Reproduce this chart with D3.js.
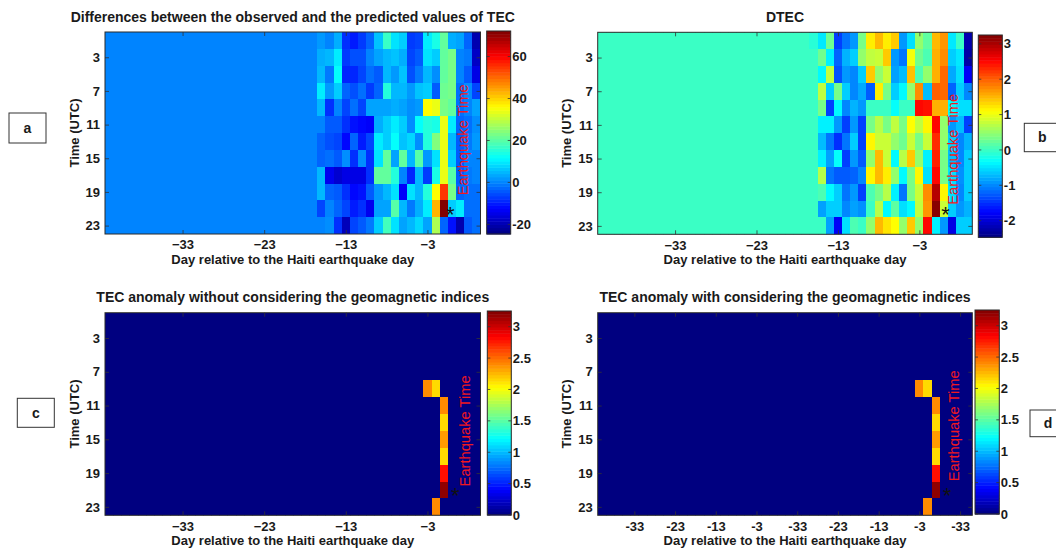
<!DOCTYPE html>
<html>
<head>
<meta charset="utf-8">
<script src="https://cdn.jsdelivr.net/npm/d3@7"></script>
<style>
  html, body { margin: 0; padding: 0; background: #fff; }
  svg { display: block; font-family: Arial, "Liberation Sans", sans-serif; }
</style>
</head>
<body>
<svg id="fig" width="1056" height="549"></svg>
<script>
// ---- data -------------------------------------------------------------
// Days relative to the Haiti earthquake day (12 Jan 2010) and 2-hour UTC bins
const days = [-42,-41,-40,-39,-38,-37,-36,-35,-34,-33,-32,-31,-30,-29,-28,-27,-26,-25,-24,-23,
              -22,-21,-20,-19,-18,-17,-16,-15,-14,-13,-12,-11,-10,-9,-8,-7,-6,-5,-4,-3,-2,-1,0,1,2,3];
const hours = [1,3,5,7,9,11,13,15,17,19,21,23];

// Days with computed values; earlier days hold the quiet value
const activeDays = [-16,-15,-14,-13,-12,-11,-10,-9,-8,-7,-6,-5,-4,-3,-2,-1,0,1,2,3];
const quietTecDiff = 0;
const quietDtec = 0;
const quietAnomaly = 0;

// Observed minus predicted TEC (TECU), rows = hour bins, columns = activeDays
const tecDiff = [
  [  2,  0,  4, -8,-10, -7, -3,  6, 17,  9,  7, -7, -6, 10, 14, 21,  4,  3, -3,-20],
  [  4,  5, 10, -7, -5, -5,  0,  3,  5,  6,  4, -6, -4,  9,  7, 21, 23,  0, -1,-18],
  [  5, -1, 12, -9, -9, -6, -2, -4,  5,  2,  6, -5, -1,  5,  1, 21, 23,  0, -4,-15],
  [ 10,  2,  7, -3, -5, -2, -7, -3, 15,  5,  5,  2,  6,  7, -4, 22, 23, -2,  1, -6],
  [  5, -8,  0, -6, -2, -6,  3,  3,  3,  4,  3,  1,  2, 36, 34, 23, 21, -2,  0,  3],
  [  0, -4, -4, -8,-11,-12,-13,  4,  7, 10,  7,  1, 12, 15, 14, 34, 10, -3, -2,  1],
  [ -3, -5, -6,-12, -3,-10, -6, 10,  7, 12,  6,  8,  1, 15, 24, 34,  5, -4, -1,  2],
  [ -3, -2, -4,  1, -8,  1, -8,  9, 21,  3, 21,  5, 20,  2,  9, 34,  7, -4,  0,  0],
  [  5,-14,-17,-15,-15,-15, -8, 21, 21, 15,  0, -9,  5, -7, 14, 34, 20, -4, -1,  0],
  [  5, -3, -4, -8,-12,-11, -4,  2,  5,  9,-13,  9,  5, 15, 36, 55, 23, -3, -2, -2],
  [ -6,  0, -3, -6,-10, -8,-14,  3,  3, 20,  5, -1,  4, 10, 43, 72,  7, 10, -2, -2],
  [  0,  1, -8,-19, -6, -4, -1,  7, 18,  9,  3,  5,  8,  3, 28, -3,-11,-20, -4, -2]
];

// DTEC, rows = hour bins, columns = activeDays
const dtec = [
  [-0.1,-0.45, 0.3,-1.4,-1.1,-0.9, 0.35, 1.2, 1.5, 1.2, 1.4,-0.9,-0.5, 0.5, 0.2, 1.5, 1.7,-0.45, 0.0,-2.2],
  [ 0.0, 0.3,-0.4,-1.2,-0.75,-0.6, 0.5, 0.75, 0.8, 1.4,-0.9,-1.1, 1.05, 0.3, 0.1, 1.55, 1.75,-0.6,-0.45,-2.25],
  [ 0.0,-0.35, 0.75,-1.3,-0.9,-1.0,-0.6, 1.4, 0.5, 0.8,-0.85,-0.7, 1.45, 0.1, 0.5, 1.55, 1.95,-0.8,-0.5,-1.8],
  [ 0.0, 0.75,-0.6, 0.35,-0.6,-1.0,-0.8,-1.25, 1.2, 0.35,-0.6,-0.35, 0.5, 1.75,-0.7, 2.0, 1.95,-1.2,-0.6,-1.0],
  [ 0.0, 0.35,-1.4,-0.35,-1.0,-0.75,-0.9, 0.0, 0.0, 0.0,-0.3, 0.0, 0.0, 2.5, 2.45, 1.55, 1.55,-0.35,-0.5,-0.5],
  [ 0.0,-0.4,-0.4,-0.9,-1.4,-0.9,-1.4, 0.35, 0.7, 0.35, 0.75, 0.35, 1.1, 0.75, 1.15, 2.5, 0.5,-0.9,-0.7,-1.4],
  [ 0.0,-0.7,-1.1,-1.5,-1.1,-0.6,-1.4, 1.15, 0.8, 0.8, 0.5, 0.3, 0.8, 0.35, 0.8, 2.3, 0.5,-0.6,-1.0,-0.75],
  [ 0.0,-0.4,-0.85,-0.3,-1.4,-0.9,-1.25, 0.5, 1.5, 0.8,-0.35, 0.7, 1.4, 0.5,-0.4, 2.35, 0.35,-0.7,-1.0,-0.6],
  [ 0.0, 0.7,-1.1,-1.25,-1.25,-1.2,-1.0, 1.15, 1.5, 1.2, 0.5,-0.35, 0.35, 1.15,-0.5, 2.5, 0.35,-0.5,-0.95,-0.6],
  [ 0.0, 0.1,-0.35,-0.6,-1.1,-0.9,-1.4, 0.1, 0.35, 0.7,-0.4,-1.1, 0.35, 0.8, 1.75, 2.95, 1.15,-0.5,-1.0,-0.6],
  [ 0.0,-0.85,-0.6,-0.6,-1.0,-0.85,-0.95, 0.0, 0.7,-0.35, 0.2,-0.5,-0.35, 0.75, 1.7, 3.2, 0.8,-0.6,-0.9,-0.75],
  [ 0.0, 0.0,-0.85,-1.8,-0.5, 0.1, 0.0, 0.5, 1.5, 1.25, 1.1, 0.5, 1.4, 0.5, 2.5,-0.4,-0.9,-1.9,-0.6,-0.6]
];

// Flagged anomaly cells (all other cells hold the quiet value)
const anomalyNoGeo = [
  { day: -3, hour:  9, v: 2.40 },
  { day: -2, hour:  9, v: 2.15 },
  { day: -1, hour: 11, v: 2.40 },
  { day: -1, hour: 13, v: 2.15 },
  { day: -1, hour: 15, v: 2.35 },
  { day: -1, hour: 17, v: 2.15 },
  { day: -1, hour: 19, v: 2.80 },
  { day: -1, hour: 21, v: 3.20 },
  { day: -2, hour: 23, v: 2.40 }
];
const anomalyGeo = [
  { day: -3, hour:  9, v: 2.40 },
  { day: -2, hour:  9, v: 2.15 },
  { day: -1, hour: 11, v: 2.40 },
  { day: -1, hour: 13, v: 2.15 },
  { day: -1, hour: 15, v: 2.35 },
  { day: -1, hour: 17, v: 2.15 },
  { day: -1, hour: 19, v: 2.80 },
  { day: -1, hour: 21, v: 3.20 },
  { day: -2, hour: 23, v: 2.40 }
];

// Axis ticks
const yTickValues = [3, 7, 11, 15, 19, 23];
const xTickValues = [-33, -23, -13, -3];
const xTickValuesD = [-38, -33, -28, -23, -18, -13, -8, -3, 2];
const xTickLabelsD = ["-33", "-23", "-13", "-3", "-33", "-23", "-13", "-3", "-33"];

// Colour limits and colour bar ticks
const climA = [-24.6, 72.2];
const climB = [-2.47, 3.25];
const climCD = [0, 3.25];
const cbTicksA = [-20, 0, 20, 40, 60];
const cbTicksB = [-2, -1, 0, 1, 2, 3];
const cbTicksCD = [0, 0.5, 1, 1.5, 2, 2.5, 3];

const titles = [
  "Differences between the observed and the predicted values of TEC",
  "DTEC",
  "TEC anomaly without considering the geomagnetic indices",
  "TEC anomaly with considering the geomagnetic indices"
];
const xLabel = "Day relative to the Haiti earthquake day";
const yLabel = "Time (UTC)";
const quakeLabel = "Earthquake Time";
const panelLetters = ["a", "b", "c", "d"];

// Earthquake marker and label positions (day, hour)
const quakeStar = [
  { day: -0.2, hour: 21.1 }, { day: 0.2, hour: 21.1 },
  { day: 0.4, hour: 21.1 }, { day: 0.4, hour: 21.1 }
];
const quakeText = [
  { day: 1.35, hour: 12.8 }, { day: 1.15, hour: 13.9 },
  { day: 1.55, hour: 14.0 }, { day: 1.2, hour: 13.4 }
];

// ---- helpers ----------------------------------------------------------
function gridFromMatrix(matrix, quiet) {
  const cells = [];
  hours.forEach((h, r) => {
    days.forEach(d => {
      const k = activeDays.indexOf(d);
      cells.push({ day: d, hour: h, v: k < 0 ? quiet : matrix[r][k] });
    });
  });
  return cells;
}
function gridFromCells(list, quiet) {
  const cells = [];
  hours.forEach(h => days.forEach(d => {
    const hit = list.find(c => c.day === d && c.hour === h);
    cells.push({ day: d, hour: h, v: hit ? hit.v : quiet });
  }));
  return cells;
}
function jet(t) {
  const c = v => Math.max(0, Math.min(1, v));
  const r = c(1.5 - Math.abs(4 * t - 3));
  const g = c(1.5 - Math.abs(4 * t - 2));
  const b = c(1.5 - Math.abs(4 * t - 1));
  return d3.rgb(r * 255, g * 255, b * 255).formatHex();
}

const svg = d3.select("#fig");
const INK = "#1a1a1a";
const FONT = 'Arial, "Liberation Sans", sans-serif';

const panels = [
  { cells: gridFromMatrix(tecDiff, quietTecDiff), clim: climA, cbTicks: cbTicksA,
    plot: { x0: 105, x1: 480.5, y0: 32, y1: 234 },
    cb: { x: 486.7, w: 24, y0: 31, y1: 234 },
    box: { x: 9, y: 113, w: 37, h: 30 },
    xt: xTickValues, xl: null },
  { cells: gridFromMatrix(dtec, quietDtec), clim: climB, cbTicks: cbTicksB,
    plot: { x0: 597.7, x1: 972.3, y0: 32.3, y1: 234.3 },
    cb: { x: 978.3, w: 24, y0: 35, y1: 237.3 },
    box: { x: 1024.3, y: 123.3, w: 40, h: 28.4 },
    xt: xTickValues, xl: null },
  { cells: gridFromCells(anomalyNoGeo, quietAnomaly), clim: climCD, cbTicks: cbTicksCD,
    plot: { x0: 105, x1: 480.5, y0: 312.7, y1: 515.3 },
    cb: { x: 487.3, w: 24, y0: 311, y1: 515 },
    box: { x: 17.3, y: 398.3, w: 37, h: 29 },
    xt: xTickValues, xl: null },
  { cells: gridFromCells(anomalyGeo, quietAnomaly), clim: climCD, cbTicks: cbTicksCD,
    plot: { x0: 597.7, x1: 972.3, y0: 312.7, y1: 515.3 },
    cb: { x: 975, w: 24.3, y0: 310, y1: 514 },
    box: { x: 1030, y: 410, w: 40, h: 26.7 },
    xt: xTickValuesD, xl: xTickLabelsD }
];

function styleAxis(g) {
  g.select(".domain").remove();
  g.attr("font-size", 13).attr("font-family", FONT).attr("font-weight", "bold")
   .attr("color", INK);
  g.selectAll(".tick line").attr("stroke", "#333").attr("stroke-width", 0.8);
}

panels.forEach((p, i) => {
  const { x0, x1, y0, y1 } = p.plot;
  const g = svg.append("g");
  const x = d3.scaleLinear().domain([days[0] - 0.5, days[days.length - 1] + 0.5]).range([x0, x1]);
  const y = d3.scaleLinear().domain([0, 24]).range([y0, y1]);
  const norm = d3.scaleLinear().domain(p.clim).range([0, 1]).clamp(true);

  const clipId = "clip" + i;
  svg.append("clipPath").attr("id", clipId)
    .append("rect").attr("x", x0).attr("y", y0).attr("width", x1 - x0).attr("height", y1 - y0);

  // heat-map cells, snapped to whole pixels so neighbours meet without seams
  const px = v => Math.round(v);
  g.append("g").attr("clip-path", `url(#${clipId})`).attr("shape-rendering", "crispEdges")
    .selectAll("rect").data(p.cells).join("rect")
    .attr("x", d => px(x(d.day - 0.5)))
    .attr("y", d => px(y(d.hour - 1)))
    .attr("width", d => px(x(d.day + 0.5)) - px(x(d.day - 0.5)) + 1)
    .attr("height", d => px(y(d.hour + 1)) - px(y(d.hour - 1)) + 1)
    .attr("fill", d => jet(norm(d.v)));

  // axes (ticks point inward on all four sides)
  const bottom = d3.axisBottom(x).tickValues(p.xt).tickSizeInner(-4).tickSizeOuter(0).tickPadding(6);
  if (p.xl) bottom.tickFormat((d, k) => p.xl[k]);
  g.append("g").attr("transform", `translate(0,${y1})`).call(bottom).call(styleAxis);
  g.append("g").attr("transform", `translate(0,${y0})`)
    .call(d3.axisTop(x).tickValues(p.xt).tickSizeInner(-4).tickSizeOuter(0).tickFormat(""))
    .call(styleAxis);
  g.append("g").attr("transform", `translate(${x0},0)`)
    .call(d3.axisLeft(y).tickValues(yTickValues).tickSizeInner(-4).tickSizeOuter(0).tickPadding(5))
    .call(styleAxis);
  g.append("g").attr("transform", `translate(${x1},0)`)
    .call(d3.axisRight(y).tickValues(yTickValues).tickSizeInner(-4).tickSizeOuter(0).tickFormat(""))
    .call(styleAxis);

  // frame
  g.append("rect").attr("x", x0).attr("y", y0).attr("width", x1 - x0).attr("height", y1 - y0)
    .attr("fill", "none").attr("stroke", "#2a2a2a").attr("stroke-width", 1);

  // titles and axis labels
  g.append("text").attr("x", (x0 + x1) / 2).attr("y", y0 - 10.5)
    .attr("text-anchor", "middle").attr("font-size", 14).attr("font-weight", "bold")
    .attr("fill", INK).text(titles[i]);
  g.append("text").attr("x", (x0 + x1) / 2).attr("y", y1 + 29.5)
    .attr("text-anchor", "middle").attr("font-size", 13).attr("font-weight", "bold")
    .attr("fill", INK).text(xLabel);
  g.append("text")
    .attr("transform", `translate(${x0 - 26.5},${(y0 + y1) / 2}) rotate(-90)`)
    .attr("text-anchor", "middle").attr("font-size", 13).attr("font-weight", "bold")
    .attr("fill", INK).text(yLabel);

  // earthquake annotations
  const qt = quakeText[i];
  g.append("text")
    .attr("transform", `translate(${x(qt.day)},${y(qt.hour)}) rotate(-90)`)
    .attr("text-anchor", "middle").attr("dy", "0.35em")
    .attr("font-size", 14.7).attr("fill", "#f01820").text(quakeLabel);
  const qs = quakeStar[i];
  g.append("text").attr("x", x(qs.day)).attr("y", y(qs.hour) + 12)
    .attr("text-anchor", "middle").attr("font-size", 22).attr("fill", "#111").text("*");

  // colour bar
  const cb = p.cb;
  const cy = d3.scaleLinear().domain(p.clim).range([cb.y1, cb.y0]);
  const bands = d3.range(64);
  const bandH = (cb.y1 - cb.y0) / 64;
  g.append("g").selectAll("rect").data(bands).join("rect")
    .attr("x", cb.x).attr("width", cb.w)
    .attr("y", k => cb.y1 - (k + 1) * bandH).attr("height", bandH + 0.5)
    .attr("fill", k => jet((k + 0.5) / 64));
  g.append("rect").attr("x", cb.x).attr("y", cb.y0).attr("width", cb.w).attr("height", cb.y1 - cb.y0)
    .attr("fill", "none").attr("stroke", "#2a2a2a").attr("stroke-width", 1);
  const tk = g.append("g").selectAll("g").data(p.cbTicks).join("g")
    .attr("transform", d => `translate(0,${cy(d)})`);
  tk.append("line").attr("x1", cb.x).attr("x2", cb.x + 3).attr("stroke", "#333").attr("stroke-width", 0.8);
  tk.append("line").attr("x1", cb.x + cb.w - 3).attr("x2", cb.x + cb.w).attr("stroke", "#333").attr("stroke-width", 0.8);
  tk.append("text").attr("x", cb.x + cb.w + 1.5).attr("dy", "0.35em")
    .attr("font-size", 13).attr("font-weight", "bold").attr("fill", INK).text(d => d);

  // panel letter box
  const b = p.box;
  g.append("rect").attr("x", b.x).attr("y", b.y).attr("width", b.w).attr("height", b.h)
    .attr("fill", "#fff").attr("stroke", "#333").attr("stroke-width", 1);
  g.append("text").attr("x", b.x + (i % 2 ? 18 : b.w / 2)).attr("y", b.y + b.h / 2).attr("dy", "0.35em")
    .attr("text-anchor", "middle").attr("font-size", 14).attr("font-weight", "bold")
    .attr("fill", INK).text(panelLetters[i]);
});
</script>
</body>
</html>
